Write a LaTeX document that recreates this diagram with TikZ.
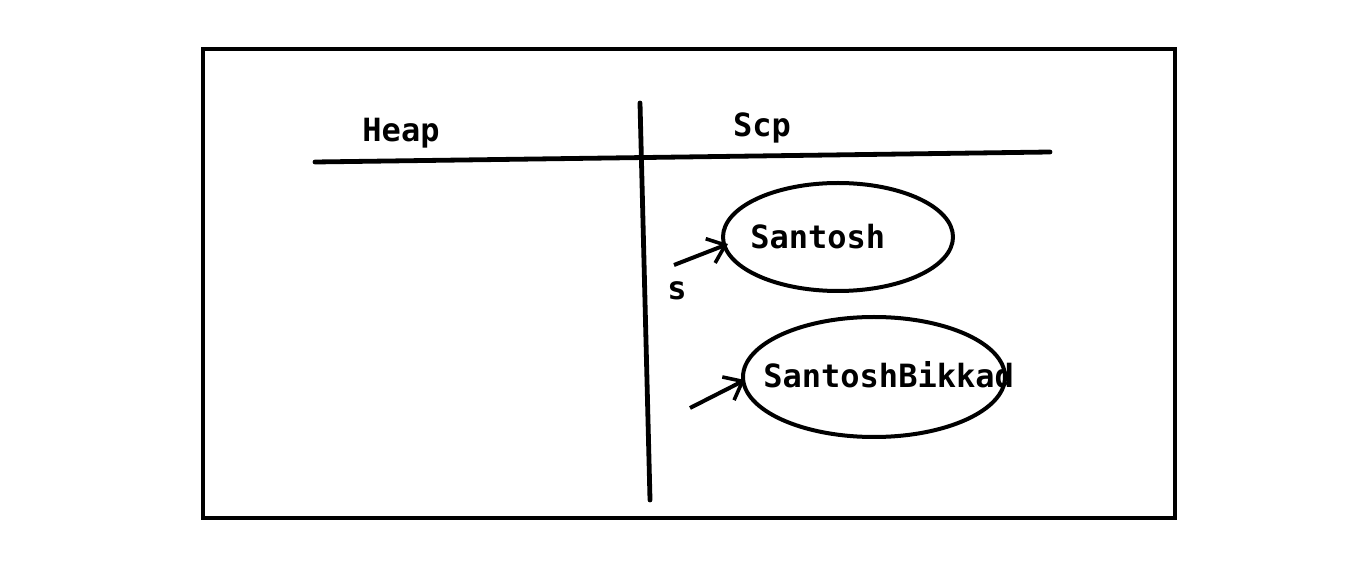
\documentclass[tikz,border=0pt]{standalone}
\usepackage{fontspec}
\setmonofont{DejaVu Sans Mono}
\usetikzlibrary{shapes.geometric, arrows.meta, positioning, calc}

\begin{document}
\begin{tikzpicture}[
  x=0.5pt, y=-0.5pt,
  frame/.style  = {draw, line width=2.4pt},
  rule/.style   = {draw, line width=2.4pt, line cap=round},
  blob/.style   = {draw, ellipse, line width=2pt, inner sep=0pt},
  word/.style   = {font=\fontsize{16}{18}\selectfont\ttfamily\bfseries,
                   inner sep=0pt},
  ref/.style    = {-{Straight Barb[length=8pt, width=13pt, line width=1.8pt]},
                   line width=2pt},
]
\useasboundingbox (0,0) rectangle (1360,566);

%-- frame and divider lines
\draw[frame] (203,49) rectangle (1175,518);
\draw[rule] (315,162) -- (1050,152);
\draw[rule] (640,103) -- (650,500);

%-- headings
\node[word] (heap) at (401,133) {Heap};
\node[word] (scp)  at (762,128) {Scp};

%-- objects in the pool
\node[blob, minimum width=115pt, minimum height=54pt] (obj1) at (838,237) {};
\node[blob, minimum width=131pt, minimum height=60pt] (obj2) at (874,377) {};
\node[word, anchor=west] (str1) at (750,237) {Santosh};
\node[word, anchor=west] (str2) at (763,375) {SantoshBikkad};

%-- references
\node[word] (var1) at (677,291) {s};
\coordinate (tail1) at (674,265);
\coordinate (tail2) at (690,408);
\draw[ref] (tail1) -- ([shift={(7,7)}]obj1.west);
\draw[ref] (tail2) -- ([shift={(4,3)}]obj2.west);

\end{tikzpicture}
\end{document}
